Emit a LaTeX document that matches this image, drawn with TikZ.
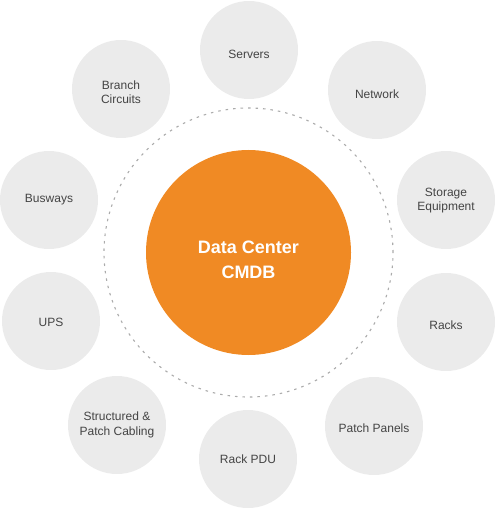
\documentclass[tikz,border=0pt]{standalone}
\usepackage{fontspec}
\setmainfont{Liberation Sans}
\definecolor{itemgray}{HTML}{EBEBEB}
\definecolor{textgray}{HTML}{444444}
\definecolor{coreorange}{HTML}{F08A24}
\definecolor{ringgray}{HTML}{ABABAB}
\begin{document}
\begin{tikzpicture}[x=1pt,y=-1pt,
  item/.style={circle,fill=itemgray,minimum size=98pt,inner sep=0pt},
  core/.style={circle,fill=coreorange,minimum size=205pt,inner sep=0pt},
  itemtext/.style={align=center,text=textgray,inner sep=0pt,
    font=\fontsize{12}{14.5}\selectfont},
  coretext/.style={align=center,text=white,inner sep=0pt,
    font=\fontsize{18}{25}\selectfont\bfseries},
  ring/.style={draw=ringgray,line width=1.1pt,dash pattern=on 2.5pt off 5pt}]
\useasboundingbox (0,0) rectangle (496,510);
\coordinate (ctr) at (248.5,252.5);
\draw[ring] (ctr) circle[radius=144.5pt];
\node[core] (cmdb) at (ctr) {};
\node[coretext] (cmdbt) at ([yshift=-7.5pt]cmdb.center) {Data Center\\CMDB};
\node[item] (servers) at (249,50) {};
\node[item] (network) at (377,90) {};
\node[item] (storage) at (446,200) {};
\node[item] (racks) at (446,322) {};
\node[item] (patch) at (374,426) {};
\node[item] (pdu) at (248,459) {};
\node[item] (cabling) at (117,425) {};
\node[item] (ups) at (51,321) {};
\node[item] (busways) at (49,200) {};
\node[item] (branch) at (121,89) {};
\node[itemtext] (serverst) at ([yshift=-4pt]servers.center) {Servers};
\node[itemtext] (networkt) at ([yshift=-4.5pt]network.center) {Network};
\node[itemtext] (storaget) at ([yshift=-0.5pt]storage.center) {Storage\\Equipment};
\node[itemtext] (rackst) at ([yshift=-3pt]racks.center) {Racks};
\node[itemtext] (patcht) at ([yshift=-2pt]patch.center) {Patch Panels};
\node[itemtext] (pdut) at (pdu.center) {Rack PDU};
\node[itemtext] (cablingt) at (cabling.center) {Structured \&\\Patch Cabling};
\node[itemtext] (upst) at ([yshift=-1pt]ups.center) {UPS};
\node[itemtext] (buswayst) at (busways.center) {Busways};
\node[itemtext] (brancht) at ([yshift=-3pt]branch.center) {Branch\\Circuits};
\end{tikzpicture}
\end{document}
